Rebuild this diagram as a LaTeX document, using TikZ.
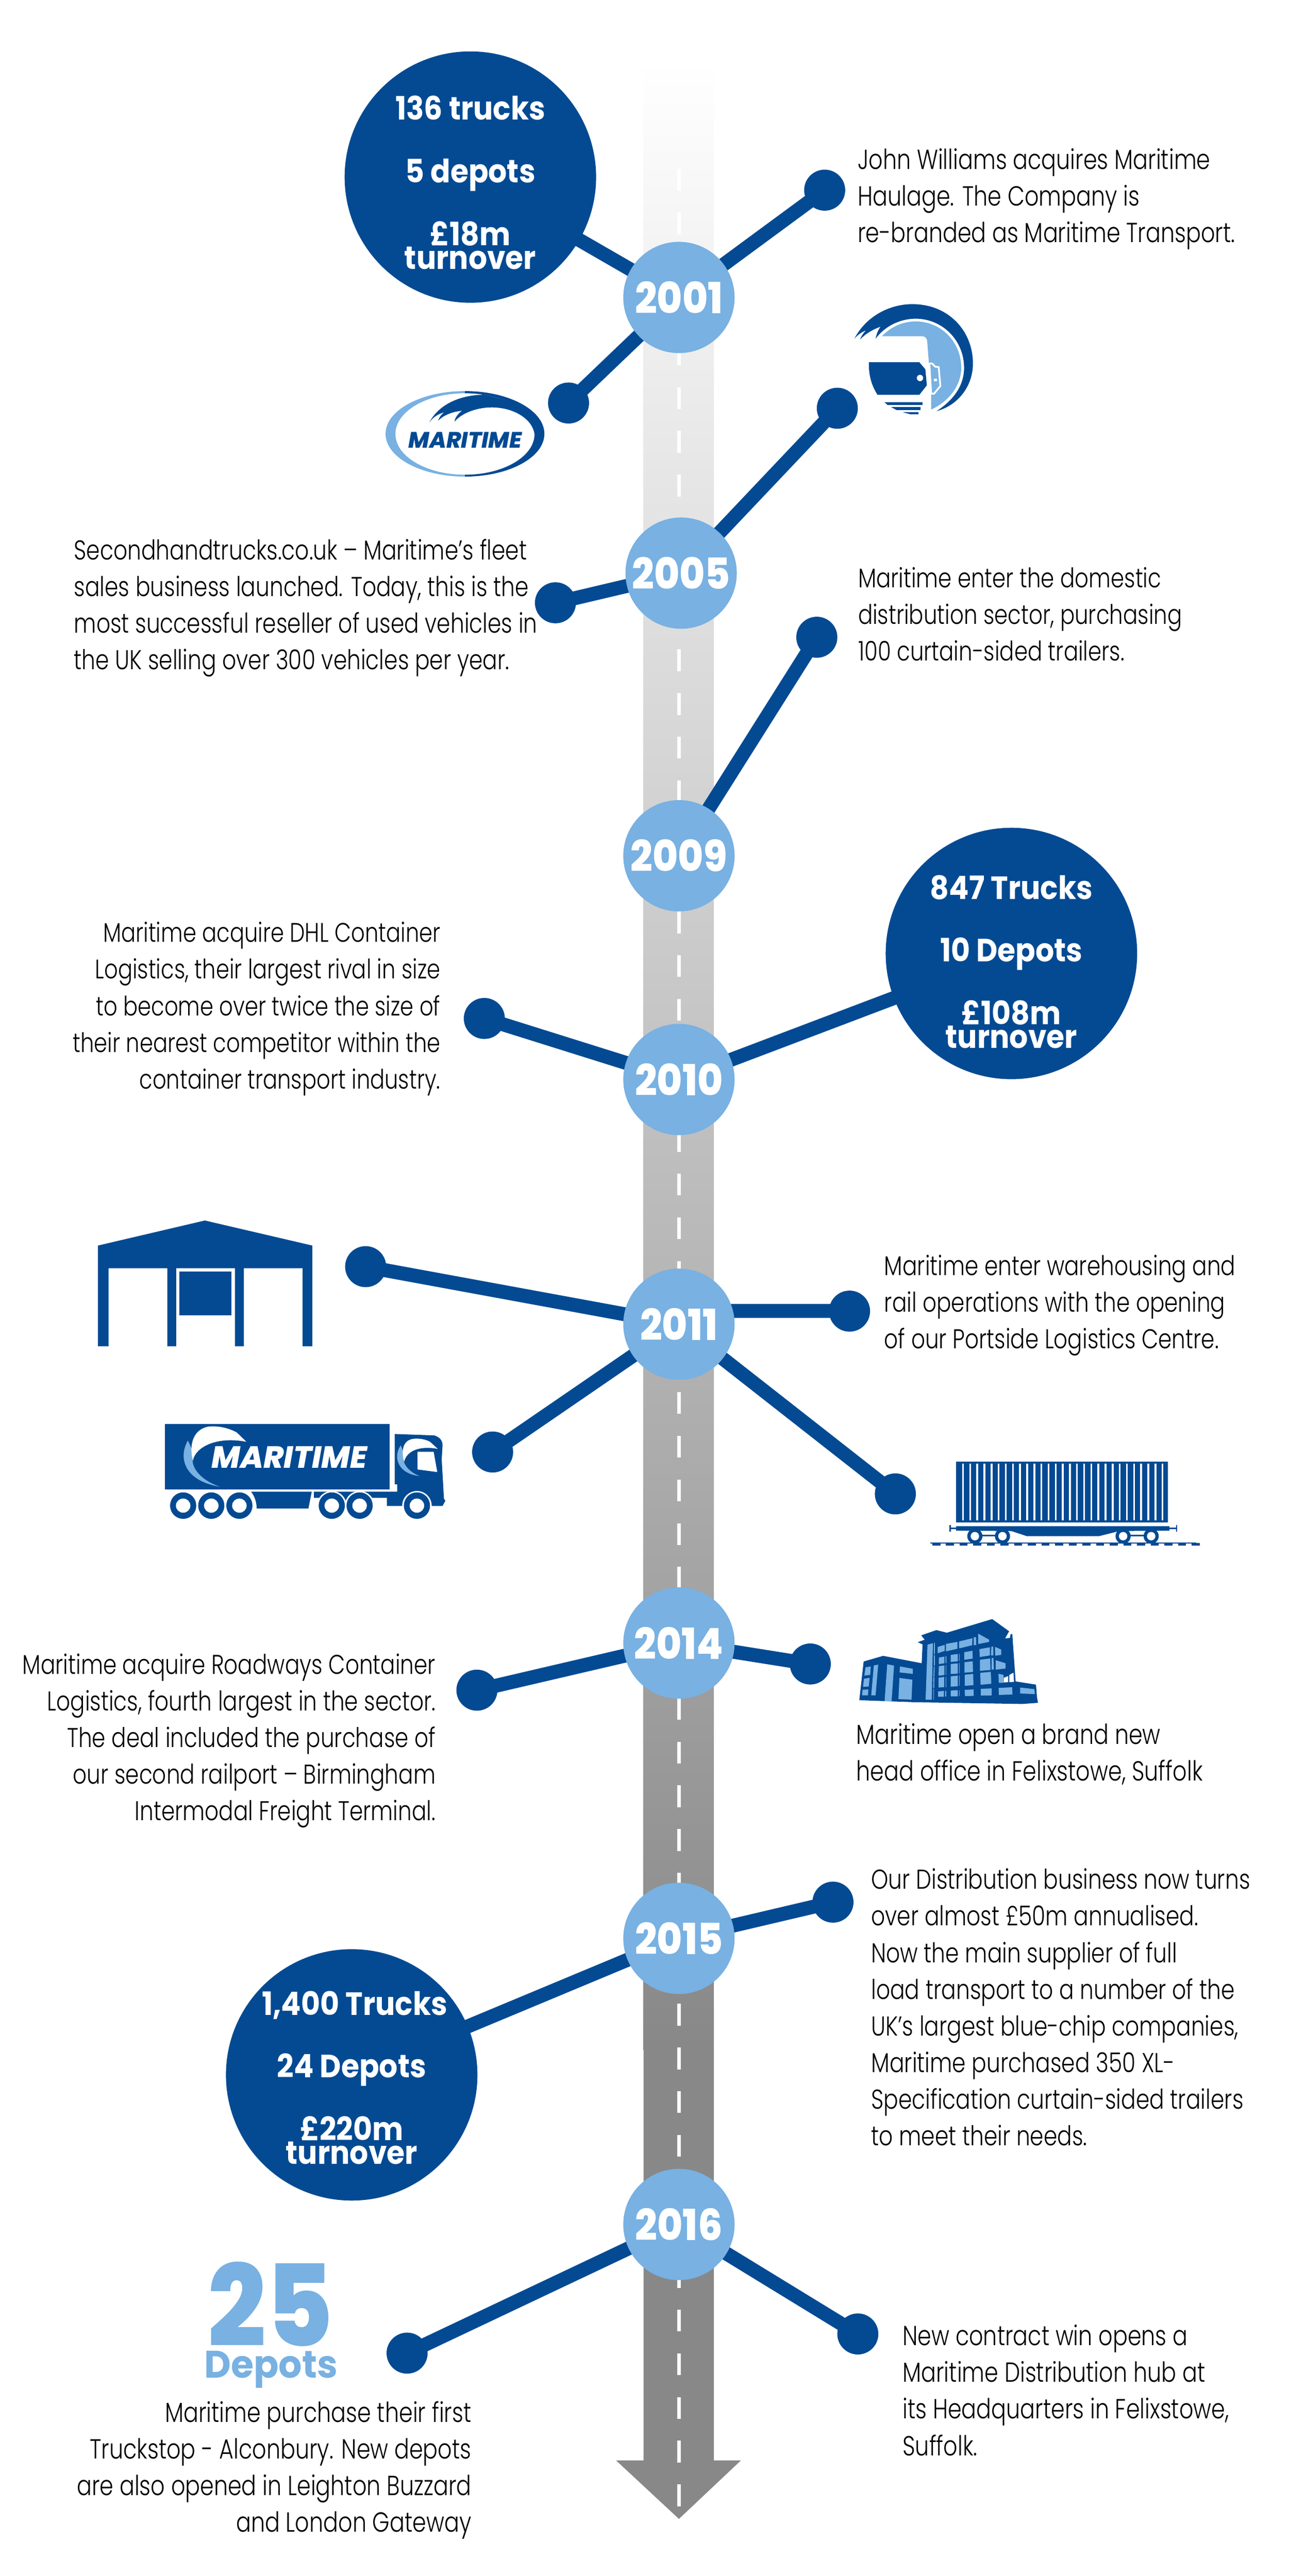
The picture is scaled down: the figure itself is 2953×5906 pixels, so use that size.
\documentclass[tikz,border=0pt]{standalone}
\usepackage{fontspec}
\usetikzlibrary{backgrounds}
\newfontfamily\bodyf{Poppins Light}[FakeStretch=0.80]
\newfontfamily\statf{Poppins}[FakeStretch=0.91]
\newfontfamily\bigf{Poppins ExtraBold}[FakeStretch=0.90]
\newfontfamily\depf{Poppins}[FakeStretch=0.96]
\newfontfamily\yearf{Poppins ExtraBold}[FakeStretch=0.90]
\newfontfamily\logof{Poppins ExtraBold}
\definecolor{mdark}{HTML}{034A93}
\definecolor{mlight}{HTML}{78B1E2}
\definecolor{mroad}{HTML}{888888}
\tikzset{
  yearc/.style={circle,fill=mlight,draw=none,inner sep=0pt,minimum size=2.55cm,text=white,font=\yearf\fontsize{28}{30}\selectfont},
  dotn/.style={circle,fill=mdark,draw=none,inner sep=0pt,minimum size=0.94cm},
  bigc/.style={circle,fill=mdark,draw=none,inner sep=0pt,minimum size=5.76cm},
  conn/.style={draw=mdark,line width=0.32cm},
  bodyl/.style={inner sep=0pt,anchor=west,align=left,font=\bodyf\fontsize{18}{23.9}\selectfont},
  bodyr/.style={inner sep=0pt,anchor=east,align=right,font=\bodyf\fontsize{18}{23.9}\selectfont},
  stat/.style={inner sep=0pt,anchor=base,text=white,font=\statf\bfseries\fontsize{21}{24}\selectfont},
  dark/.style={fill=mdark,draw=none},
  lite/.style={fill=mlight,draw=none},
  wite/.style={fill=white,draw=none},
  zoomA/.style={shift={(1800,600)},xscale=0.3827,yscale=0.3333},
  zoomB/.style={shift={(150,2750)},xscale=0.6378,yscale=0.5420},
  zoomC/.style={shift={(2050,3300)},xscale=0.5102,yscale=0.5102},
  zoomD/.style={shift={(1950,3650)},xscale=0.3333,yscale=0.3333},
  zoomE/.style={shift={(860,870)},xscale=0.3333,yscale=0.3333},
}
\begin{document}
\begin{tikzpicture}[x=0.01cm,y=-0.01cm]
\useasboundingbox (0,0) rectangle (2953,5906);
% year nodes
\node[yearc] (y01) at (1556,682) {2001};
\node[yearc] (y05) at (1561,1314) {2005};
\node[yearc] (y09) at (1556,1962) {2009};
\node[yearc] (y10) at (1556,2475) {2010};
\node[yearc] (y11) at (1556,3036) {2011};
\node[yearc] (y14) at (1556,3767) {2014};
\node[yearc] (y15) at (1556,4444) {2015};
\node[yearc] (y16) at (1556,5100) {2016};
% dots
\node[dotn] (d01a) at (1890,436) {};
\node[dotn] (d01b) at (1303,924) {};
\node[dotn] (d05a) at (1919,936) {};
\node[dotn] (d05b) at (1273,1382) {};
\node[dotn] (d09a) at (1872,1461) {};
\node[dotn] (d10a) at (1110,2335) {};
\node[dotn] (d11a) at (838,2904) {};
\node[dotn] (d11b) at (1129,3329) {};
\node[dotn] (d11c) at (1947,3006) {};
\node[dotn] (d11d) at (2052,3425) {};
\node[dotn] (d14a) at (1093,3875) {};
\node[dotn] (d14b) at (1857,3815) {};
\node[dotn] (d15a) at (1909,4361) {};
\node[dotn] (d16a) at (933,5395) {};
\node[dotn] (d16b) at (1966,5351) {};
% big circles
\node[bigc] (b01) at (1078,406) {};
\node[bigc] (b10) at (2318,2186) {};
\node[bigc] (b15) at (806,4757) {};
\node[stat] (s1a) at (1078,275) {136 trucks};
\node[stat] (s1b) at (1078,419) {5 depots};
\node[stat] (s1c) at (1078,563) {£18m};
\node[stat] (s1d) at (1078,617) {turnover};
\node[stat] (s2a) at (2318,2062) {847 Trucks};
\node[stat] (s2b) at (2318,2205) {10 Depots};
\node[stat] (s2c) at (2318,2349) {£108m};
\node[stat] (s2d) at (2318,2403) {turnover};
\node[stat] (s3a) at (813,4620) {1,400 Trucks};
\node[stat] (s3b) at (806,4763) {24 Depots};
\node[stat] (s3c) at (806,4907) {£220m};
\node[stat] (s3d) at (806,4961) {turnover};
% road and connectors
\begin{scope}[on background layer]
\fill[white] (0,0) rectangle (2953,5906);
\shade[top color=white,bottom color=mroad] (1475,139) rectangle (1636,4700);
\fill[mroad] (1475,4699) -- (1636,4699) -- (1636,5641) -- (1698,5641) -- (1556,5775) -- (1412,5641) -- (1475,5641) -- cycle;
\foreach \k in {0,...,53}{\fill[white] ({1552},{387+100.17*\k}) rectangle ({1560},{437+100.17*\k});}
\foreach \a/\b in {y01/b01,y01/d01a,y01/d01b,y05/d05a,y05/d05b,y09/d09a,y10/d10a,y10/b10,y11/d11a,y11/d11b,y11/d11d,y14/d14a,y14/d14b,y15/d15a,y15/b15,y16/d16a,y16/d16b}{
  \draw[conn] (\a.center) -- (\b.center);}
\draw[conn] (d11c.center) -- (d11c.center -| y11.center);
\end{scope}
% texts
\node[bodyl] (tA) at (1965,456) {John Williams acquires Maritime\\Haulage. The Company is\\re-branded as Maritime Transport.};
\node[bodyl,font=\bodyf\fontsize{17.8}{23.9}\selectfont] (tB) at (169,1394) {Secondhandtrucks.co.uk – Maritime’s fleet\\sales business launched. Today, this is the\\most successful reseller of used vehicles in\\the UK selling over 300 vehicles per year.};
\node[bodyl,font=\bodyf\fontsize{17.6}{23.9}\selectfont] (tC) at (1966,1408) {Maritime enter the domestic\\distribution sector, purchasing\\100 curtain-sided trailers.};
\node[bodyr,font=\bodyf\fontsize{17.5}{23.9}\selectfont] (tD) at (1010,2313) {Maritime acquire DHL Container\\Logistics, their largest rival in size\\to become over twice the size of\\their nearest competitor within the\\container transport industry.};
\node[bodyl,font=\bodyf\fontsize{17.7}{23.9}\selectfont] (tE) at (2026,2993) {Maritime enter warehousing and\\rail operations with the opening\\of our Portside Logistics Centre.};
\node[bodyr,font=\bodyf\fontsize{17.7}{23.9}\selectfont] (tF) at (999,3991) {Maritime acquire Roadways Container\\Logistics, fourth largest in the sector.\\The deal included the purchase of\\our second railport – Birmingham\\Intermodal Freight Terminal.};
\node[bodyl] (tG) at (1962,4022) {Maritime open a brand new\\head office in Felixstowe, Suffolk};
\node[bodyl,font=\bodyf\fontsize{17.8}{23.9}\selectfont] (tH) at (1996,4602) {Our Distribution business now turns\\over almost £50m annualised.\\Now the main supplier of full\\load transport to a number of the\\UK’s largest blue-chip companies,\\Maritime purchased 350 XL-\\Specification curtain-sided trailers\\to meet their needs.};
\node[bodyl] (tI) at (2068,5480) {New contract win opens a\\Maritime Distribution hub at\\its Headquarters in Felixstowe,\\Suffolk.};
\node[bodyr] (tJ) at (1081,5663) {Maritime purchase their first\\Truckstop - Alconbury. New depots\\are also opened in Leighton Buzzard\\and London Gateway};
\node[inner sep=0pt,text=mlight,font=\bigf\fontsize{74}{76}\selectfont] (n25) at (620,5283) {25};
\node[inner sep=0pt,anchor=base,text=mlight,font=\depf\bfseries\fontsize{25}{28}\selectfont] (ndep) at (621,5452) {Depots};
% logo oval
\begin{scope}[zoomE]
\fill[lite] (617,80) arc[start angle=270,end angle=90,x radius=546,y radius=294] -- cycle;
\fill[dark] (617,80) arc[start angle=270,end angle=450,x radius=546,y radius=294] -- cycle;
\fill[wite] (617,375) ellipse [x radius=478,y radius=280];
\fill[dark] (750,105) .. controls (620,105) and (450,150) .. (372,295)
  .. controls (400,255) and (440,235) .. (474,226) .. controls (455,240) and (440,260) .. (433,283)
  .. controls (470,245) and (530,222) .. (597,215) .. controls (570,235) and (550,260) .. (545,290)
  .. controls (600,225) and (710,192) .. (800,192) .. controls (950,192) and (1080,270) .. (1095,375)
  -- (1163,374) .. controls (1150,270) and (980,150) .. (750,105) -- cycle;
\end{scope}
\node[inner sep=0pt,text=mdark,font=\logof\itshape\fontsize{14.6}{16}\selectfont] (logoa) at (1066,1009) {MARITIME};
% truck-in-circle icon
\begin{scope}[zoomA]
\fill[dark] (413,530) .. controls (480,380) and (620,292) .. (760,292) .. controls (980,292) and (1123,480) .. (1123,700)
  .. controls (1123,860) and (1030,990) .. (905,1028) .. controls (1010,950) and (1070,850) .. (1070,730)
  .. controls (1070,540) and (940,392) .. (780,392) .. controls (680,392) and (590,450) .. (540,530)
  .. controls (545,500) and (555,470) .. (570,447) .. controls (525,465) and (480,495) .. (447,535)
  .. controls (455,510) and (468,490) .. (483,472) .. controls (455,485) and (430,505) .. (413,530) -- cycle;
\fill[lite] (578,513) .. controls (630,450) and (700,411) .. (780,411) .. controls (930,411) and (1053,550) .. (1053,730)
  .. controls (1053,850) and (980,960) .. (873,1017) -- (873,900) -- (849,545) .. controls (847,525) and (835,513) .. (820,513) -- cycle;
\filldraw[fill=mlight,draw=white,line width=0.04cm] (862,700) -- (878,700) -- (897,722) -- (918,725) -- (928,855) -- (890,908) -- (873,908) -- cycle;
\fill[wite] (890,805) rectangle (907,823);
\fill[dark] (500,692) -- (802,692) -- (838,740) -- (847,850) -- (802,916) -- (552,916) .. controls (515,850) and (498,780) .. (500,692) -- cycle;
\fill[wite] (806,800) ellipse [x radius=19,y radius=22];
\fill[dark] (593,966) -- (821,966) -- (821,986) -- (612,986) -- cycle;
\fill[dark] (633,1000) -- (809,1000) -- (809,1020) -- (665,1020) -- cycle;
\fill[dark] (702,1035) -- (797,1035) -- (797,1050) -- (750,1050) -- cycle;
\end{scope}
% warehouse
\begin{scope}[zoomB]
\fill[dark] (117,195) -- (501,89) -- (887,195) -- (887,621) -- (852,621) -- (852,291) -- (641,291) -- (641,621) -- (609,621) -- (609,291) -- (398,291) -- (398,621) -- (366,621) -- (366,291) -- (155,291) -- (155,621) -- (117,621) -- cycle;
\fill[dark] (410,305) rectangle (597,490);
% road truck
\fill[dark] (358,950) rectangle (1165,1227);
\fill[dark] (1183,992) -- (1325,998) .. controls (1345,1005) and (1355,1020) .. (1355,1040) -- (1352,1100) -- (1360,1265) -- (1365,1275) -- (1355,1296) -- (1155,1296) -- (1155,1262) -- (893,1262) -- (893,1236) -- (1192,1236) -- (1192,1205) -- (1183,1205) -- cycle;
\fill[dark] (667,1236) -- (885,1236) -- (873,1307) -- (687,1307) .. controls (687,1280) and (680,1255) .. (667,1236) -- cycle;
\fill[dark] (990,1262) rectangle (1020,1296);
\foreach \wx in {423,524,625,957,1057,1263}{
  \fill[wite] (\wx,1295) ellipse [x radius=53,y radius=62];
  \fill[dark] (\wx,1295) ellipse [x radius=47,y radius=56];
  \fill[wite] (\wx,1295) ellipse [x radius=26,y radius=30];}
% box swoosh
\fill[lite] (440,1020) .. controls (405,1090) and (425,1190) .. (555,1215) .. controls (490,1190) and (440,1130) .. (462,1075) -- cycle;
\fill[wite] (650,1025) -- (615,985) .. controls (590,970) and (560,958) .. (520,960) .. controls (470,965) and (440,1020) .. (458,1105) .. controls (465,1050) and (540,1000) .. (650,1025) -- cycle;
% cab swoosh
\fill[lite] (1205,1040) .. controls (1175,1090) and (1195,1160) .. (1272,1170) .. controls (1230,1150) and (1205,1110) .. (1218,1080) -- cycle;
\fill[wite] (1338,1055) -- (1310,1025) .. controls (1290,1012) and (1260,1008) .. (1240,1015) .. controls (1215,1025) and (1205,1060) .. (1217,1110) .. controls (1225,1065) and (1270,1040) .. (1338,1055) -- cycle;
\fill[wite] (1265,1067) -- (1323,1067) -- (1336,1153) -- (1265,1142) -- cycle;
\end{scope}
\node[inner sep=0pt,text=white,font=\logof\itshape\fontsize{20}{22}\selectfont] (logob) at (663,3341) {MARITIME};
% rail wagon
\begin{scope}[zoomC]
\fill[dark] (276,101) rectangle (1229,374);
\foreach \k in {0,...,28}{\fill[wite] ({304+32*\k},110) rectangle ({312+32*\k},365);}
\fill[dark] (277,390) -- (1235,390) -- (1235,410) -- (1010,412) -- (918,435) -- (595,435) -- (525,412) -- (277,410) -- cycle;
\fill[dark] (250,397) rectangle (277,403);
\fill[dark] (247,385) rectangle (253,416);
\fill[dark] (1235,397) rectangle (1267,403);
\fill[dark] (1264,385) rectangle (1270,416);
\fill[dark] (361,428) rectangle (485,436);
\fill[dark] (1027,428) rectangle (1153,436);
\foreach \wx in {361,485,1027,1153}{
  \fill[dark] ({\wx-24},450) -- ({\wx+24},450) -- ({\wx+18},468) -- ({\wx-18},468) -- cycle;
  \fill[dark] (\wx,435) circle [radius=34];
  \fill[wite] (\wx,435) circle [radius=19];}
\fill[dark] (160,464) rectangle (1355,467);
\foreach \k in {0,...,19}{\fill[dark] ({170+61.3*\k},466) rectangle ({206+61.3*\k},477);}
\end{scope}
% building
\begin{scope}[zoomD]
\fill[dark] (58,744) -- (88,478) -- (222,439) -- (487,490) -- (493,360) -- (460,345) -- (508,328) -- (484,298) -- (588,262) -- (660,280) -- (972,186) -- (1088,270) -- (1060,320) -- (1095,315) -- (1097,292) -- (1110,288) -- (1133,615) -- (1273,637) -- (1280,725) -- (1287,762) -- (1180,770) -- (440,758) -- cycle;
\fill[wite] (1052,590) -- (1082,578) -- (1082,620) -- (1052,622) -- cycle;
\fill[wite] (1090,570) -- (1118,555) -- (1122,618) -- (1090,620) -- cycle;
\foreach \p/\q/\r/\s/\t/\u/\v/\w in {
93/575/101/518/137/512/133/570, 84/652/90/597/129/590/123/650, 77/711/81/672/120/670/118/711,
140/711/158/505/188/500/170/711, 232/750/250/497/297/506/280/752, 335/553/338/512/426/528/426/563,
327/737/334/591/423/603/417/740, 514/741/527/362/564/352/556/741,
566/741/566/665/572/665/572/741, 566/660/568/585/574/585/573/660, 568/580/570/512/576/512/575/580, 571/508/571/435/577/435/577/508, 571/430/572/350/578/348/577/430,
597/421/597/378/645/364/645/405, 654/408/654/357/733/343/733/390, 744/388/744/340/836/318/834/366, 845/366/845/312/860/309/862/364, 876/358/875/286/951/328/951/343,
605/496/605/451/643/444/643/490, 651/490/651/441/657/441/657/488, 687/481/687/433/735/426/735/476, 744/474/744/424/749/424/749/474, 780/466/780/414/836/404/838/458, 886/447/884/393/956/380/956/436, 964/436/966/377/979/375/980/436, 993/438/991/377/1034/396/1034/432,
603/575/605/510/643/505/643/571, 651/570/651/503/657/503/657/570, 687/564/687/495/735/491/735/561, 744/558/744/489/749/489/749/558, 781/555/781/483/838/476/840/550, 888/542/888/466/958/457/960/536, 968/534/968/455/980/453/984/532, 997/534/997/469/1063/490/1063/526,
603/657/603/590/641/584/641/654, 651/654/651/584/657/584/657/654, 687/651/687/580/735/575/735/648, 744/645/744/575/749/575/749/645, 783/645/783/569/841/563/843/641, 892/638/890/556/962/549/966/631, 1017/625/1015/562/1050/570/1052/624,
600/720/600/684/640/680/640/720, 650/720/650/680/657/680/657/720, 687/718/687/678/735/675/735/718, 744/717/744/675/749/675/749/717, 785/716/783/673/843/670/845/714, 894/712/894/666/968/663/968/711, 1018/708/1016/660/1109/655/1111/705, 1164/698/1164/657/1262/668/1265/702}{
  \fill[lite] (\p,\q) -- (\r,\s) -- (\t,\u) -- (\v,\w) -- cycle;}
\end{scope}
\end{tikzpicture}
\end{document}
